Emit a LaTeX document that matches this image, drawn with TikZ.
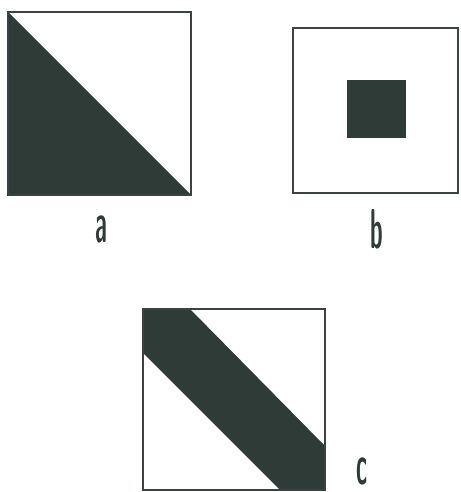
\documentclass[tikz,border=0pt]{standalone}
\usepackage{tikz}
\definecolor{panink}{HTML}{2F3B37}
\definecolor{panline}{HTML}{3A4246}
\tikzset{
  frame/.style={draw=panline, line width=0.8pt},
  blot/.style={fill=panink, draw=none},
  lab/.style={font=\sffamily\bfseries\fontsize{32}{32}\selectfont, text=panink, inner sep=0pt, xscale=0.4, transform shape},
}
\begin{document}
\begin{tikzpicture}[x=0.02cm, y=-0.02cm]
    \useasboundingbox (0,0) rectangle (460,492);
    % a: lower-left half
    \fill[blot] (8,12) -- (191,195) -- (8,195) -- cycle;
    \draw[frame] (8,12) rectangle (191,195);
    \node[lab] (la) at (101,229) {a};
    % b: small square in the middle
    \fill[blot] (347,80) rectangle (406,138);
    \draw[frame] (293,28) rectangle (458,193);
    \node[lab] (lb) at (377,229) {b};
    % c: diagonal band
    \fill[blot] (143,309) -- (190,309) -- (325,446) -- (325,490) -- (280,490) -- (143,353) -- cycle;
    \draw[frame] (143,309) rectangle (325,490);
    \node[lab] (lc) at (362,471) {c};
  \end{tikzpicture}
\end{document}
